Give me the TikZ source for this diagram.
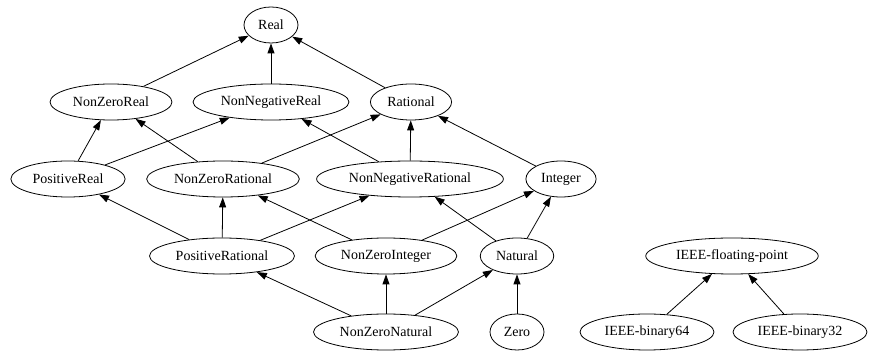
\documentclass[tikz,border=0pt]{standalone}
\usepackage{fontspec}
\setmainfont{Liberation Serif}
\usetikzlibrary{shapes.geometric,arrows.meta}
\begin{document}
\begin{tikzpicture}[x=1pt,y=-1pt,
    type/.style={draw,ellipse,line width=0.8pt,minimum height=36pt,minimum width=54pt,inner xsep=5pt,font=\fontsize{14}{16}\selectfont},
    isa/.style={-{Triangle[length=10pt,width=7pt]},line width=0.8pt}]
            \useasboundingbox (0,0) rectangle (871,352);
            \node[type] (real) at (271,25) {Real};
            \node[type] (nzreal) at (111,102) {NonZeroReal};
            \node[type] (nnreal) at (271,102) {NonNegativeReal};
            \node[type] (rat) at (411,102) {Rational};
            \node[type] (posreal) at (68,179) {PositiveReal};
            \node[type] (nzrat) at (223,179) {NonZeroRational};
            \node[type] (nnrat) at (410,179) {NonNegativeRational};
            \node[type] (int) at (561,179) {Integer};
            \node[type] (posrat) at (222,256) {PositiveRational};
            \node[type] (nzint) at (386,256) {NonZeroInteger};
            \node[type] (nat) at (517,256) {Natural};
            \node[type] (ieee) at (732,256) {IEEE-floating-point};
            \node[type] (nznat) at (386,332) {NonZeroNatural};
            \node[type] (zero) at (517,332) {Zero};
            \node[type] (bin64) at (647,332) {IEEE-binary64};
            \node[type] (bin32) at (800,332) {IEEE-binary32};
            \draw[isa] (nzreal) -- (real);
            \draw[isa] (nnreal) -- (real);
            \draw[isa] (rat) -- (real);
            \draw[isa] (posreal) -- (nzreal);
            \draw[isa] (posreal) -- (nnreal);
            \draw[isa] (nzrat) -- (nzreal);
            \draw[isa] (nzrat) -- (rat);
            \draw[isa] (nnrat) -- (nnreal);
            \draw[isa] (nnrat) -- (rat);
            \draw[isa] (int) -- (rat);
            \draw[isa] (posrat) -- (posreal);
            \draw[isa] (posrat) -- (nzrat);
            \draw[isa] (posrat) -- (nnrat);
            \draw[isa] (nzint) -- (nzrat);
            \draw[isa] (nzint) -- (int);
            \draw[isa] (nat) -- (nnrat);
            \draw[isa] (nat) -- (int);
            \draw[isa] (nznat) -- (posrat);
            \draw[isa] (nznat) -- (nzint);
            \draw[isa] (nznat) -- (nat);
            \draw[isa] (zero) -- (nat);
            \draw[isa] (bin64) -- (ieee);
            \draw[isa] (bin32) -- (ieee);
        \end{tikzpicture}
\end{document}
